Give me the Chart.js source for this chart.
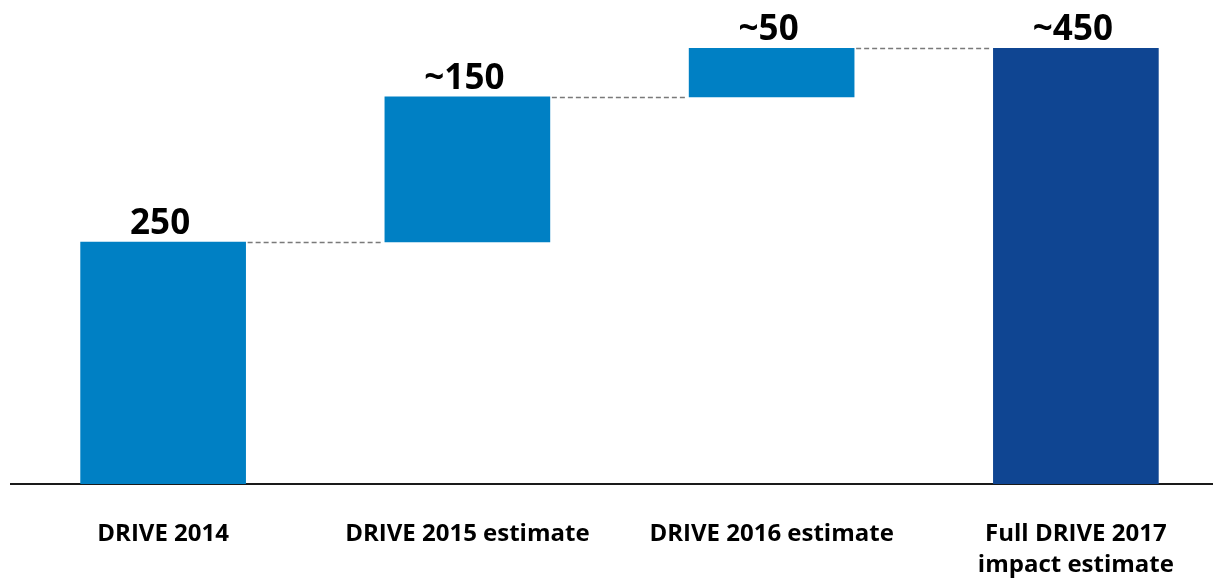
<!DOCTYPE html>
<html>
<head>
<meta charset="utf-8">
<script src="https://cdn.jsdelivr.net/npm/chart.js@4"></script>
<style>
  html, body { margin:0; padding:0; background:#fff; overflow:hidden; }
  #wrap { position:relative; width:1229px; height:578px; }
</style>
</head>
<body>
<div id="wrap"><canvas id="chart"></canvas></div>
<script>
/* waterfall: DRIVE impact, 2014 → 2017 */
const categories  = [['DRIVE 2014'], ['DRIVE 2015 estimate'], ['DRIVE 2016 estimate'], ['Full DRIVE 2017', 'impact estimate']];
const barBase     = [0, 250, 400, 0];
const barTop      = [250, 400, 450, 450];
const valueLabels = ['250', '~150', '~50', '~450'];
const barColors   = ['#0080c4', '#0080c4', '#0080c4', '#0f4592'];

const FONT = "'Open Sans', 'DejaVu Sans', sans-serif";

// value text above each bar + dashed connectors between bars
const waterfallBits = {
  id: 'waterfallBits',
  afterDatasetsDraw(chart) {
    const { ctx } = chart;
    const y = chart.scales.y;
    const bars = chart.getDatasetMeta(0).data;
    ctx.save();
    // connectors
    ctx.strokeStyle = '#7a7a7a';
    ctx.lineWidth = 1.5;
    ctx.setLineDash([5, 3]);
    for (let i = 0; i < bars.length - 1; i++) {
      const a = bars[i], b = bars[i+1];
      const yy = Math.round(y.getPixelForValue(barTop[i])) + 0.5;
      ctx.beginPath();
      ctx.moveTo(a.x + a.width/2 + 2, yy);
      ctx.lineTo(b.x - b.width/2 - 2, yy);
      ctx.stroke();
    }
    ctx.setLineDash([]);
    // labels
    ctx.fillStyle = '#000';
    ctx.font = `bold 35px ${FONT}`;
    ctx.textAlign = 'center';
    ctx.textBaseline = 'alphabetic';
    bars.forEach((bar, i) => {
      ctx.fillText(valueLabels[i], bar.x - 3, y.getPixelForValue(barTop[i]) - 8);
    });
    ctx.restore();
  }
};

new Chart(document.getElementById('chart'), {
  type: 'bar',
  data: {
    labels: categories,
    datasets: [{
      data: barBase.map((b, i) => [b, barTop[i]]),
      backgroundColor: barColors,
      borderWidth: 0,
      borderSkipped: false,
      barThickness: 165
    }]
  },
  options: {
    responsive: true, maintainAspectRatio: false,
    animation: false,
    layout: { padding: { left: 11, right: 1, top: 0, bottom: 0 } },
    plugins: { legend: { display: false }, tooltip: { enabled: false } },
    scales: {
      x: {
        grid: { display: false },
        border: { display: true, color: '#1a1a1a', width: 2 },
        ticks: { color: '#000', padding: 27, maxRotation: 0, autoSkip: false,
                 font: { family: FONT, size: 24, weight: 'bold', lineHeight: 1.27 } },
        afterFit: s => { s.height = 94; }
      },
      y: {
        display: false,
        min: 0, max: 500
      }
    }
  },
  plugins: [waterfallBits]
});
</script>
</body>
</html>
